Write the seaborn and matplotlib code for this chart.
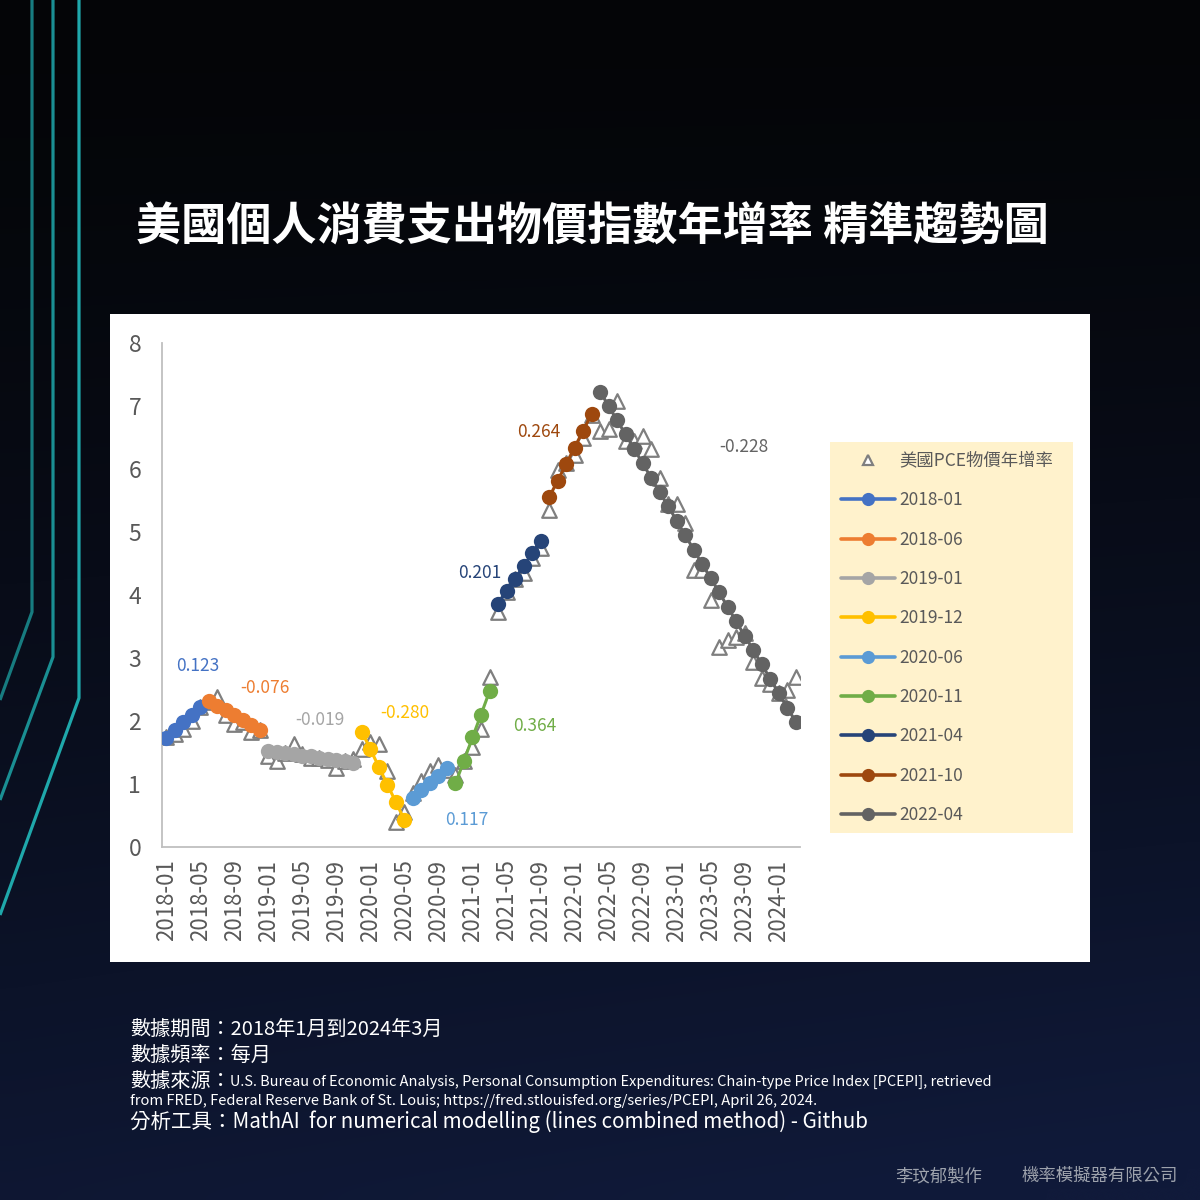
import numpy as np
import pandas as pd
import matplotlib
matplotlib.use("Agg")
import matplotlib.pyplot as plt
import seaborn as sns
from matplotlib.lines import Line2D
from matplotlib.patches import Rectangle

sns.set_theme(style="white")
plt.rcParams['font.family'] = ['Noto Sans CJK TC', 'DejaVu Sans']

# ---------------- data ----------------
months = list(pd.period_range('2018-01', '2024-03', freq='M').strftime('%Y-%m'))

pce_yoy = [
    1.75, 1.80, 1.88, 2.00, 2.22, 2.30, 2.38, 2.10, 1.96, 1.98, 1.82, 1.85,   # 2018
    1.44, 1.36, 1.50, 1.63, 1.48, 1.42, 1.42, 1.38, 1.25, 1.36, 1.40, 1.55,   # 2019
    1.66, 1.64, 1.20, 0.40, 0.55, 0.85, 1.05, 1.20, 1.30, 1.22, 1.15, 1.36,   # 2020
    1.58, 1.87, 2.70, 3.73, 4.05, 4.25, 4.35, 4.59, 4.74, 5.35, 5.98, 6.10,   # 2021
    6.22, 6.50, 6.85, 6.61, 6.64, 7.08, 6.45, 6.45, 6.53, 6.32, 5.86, 5.45,   # 2022
    5.45, 5.15, 4.40, 4.40, 3.92, 3.17, 3.29, 3.34, 3.40, 2.93, 2.69, 2.58,   # 2023
    2.45, 2.50, 2.70,                                                         # 2024
]

seg_starts = ['2018-01', '2018-06', '2019-01', '2019-12', '2020-06',
              '2020-11', '2021-04', '2021-10', '2022-04']
seg_fit_2018_01 = [1.73, 1.85, 1.98, 2.10, 2.22]
seg_fit_2018_06 = [2.32, 2.24, 2.17, 2.09, 2.01, 1.94, 1.86]
seg_fit_2019_01 = [1.53, 1.51, 1.49, 1.47, 1.45, 1.44, 1.42, 1.40, 1.38, 1.36, 1.34]
seg_fit_2019_12 = [1.83, 1.55, 1.27, 0.99, 0.71, 0.43]
seg_fit_2020_06 = [0.78, 0.90, 1.01, 1.13, 1.25]
seg_fit_2020_11 = [1.01, 1.37, 1.74, 2.10, 2.47]
seg_fit_2021_04 = [3.86, 4.06, 4.26, 4.46, 4.66, 4.86]
seg_fit_2021_10 = [5.55, 5.81, 6.08, 6.34, 6.61, 6.87]
seg_fit_2022_04 = [7.23, 7.00, 6.77, 6.55, 6.32, 6.09, 5.86, 5.63, 5.41, 5.18,
                   4.95, 4.72, 4.49, 4.27, 4.04, 3.81, 3.58, 3.35, 3.13, 2.90,
                   2.67, 2.44, 2.21, 1.99]
seg_fits = [seg_fit_2018_01, seg_fit_2018_06, seg_fit_2019_01, seg_fit_2019_12,
            seg_fit_2020_06, seg_fit_2020_11, seg_fit_2021_04, seg_fit_2021_10,
            seg_fit_2022_04]
seg_slopes = ['0.123', '-0.076', '-0.019', '-0.280', '0.117',
              '0.364', '0.201', '0.264', '-0.228']
seg_colors = ['#4472C4', '#ED7D31', '#A5A5A5', '#FFC000', '#5B9BD5',
              '#70AD47', '#264478', '#9E480E', '#636363']
# slope label anchor (month index, value)
slope_label_x = [3.7, 11.6, 18.1, 28.0, 35.3, 43.3, 36.9, 43.8, 67.9]
slope_label_y = [2.87, 2.52, 2.02, 2.13, 0.43, 1.92, 4.35, 6.59, 6.35]

tick_labels = ['2018-01', '2018-05', '2018-09', '2019-01', '2019-05', '2019-09',
               '2020-01', '2020-05', '2020-09', '2021-01', '2021-05', '2021-09',
               '2022-01', '2022-05', '2022-09', '2023-01', '2023-05', '2023-09',
               '2024-01']

title = '美國個人消費支出物價指數年增率 精準趨勢圖'
legend_title_label = '美國PCE物價年增率'

# ---------------- frames ----------------
df_pce = pd.DataFrame({'month': months, 'idx': range(len(months)), 'value': pce_yoy})
rows = []
for seg, vals in zip(seg_starts, seg_fits):
    s = months.index(seg)
    for k, v in enumerate(vals):
        rows.append({'month': months[s + k], 'idx': s + k, 'value': v, 'segment': seg})
df_fit = pd.DataFrame(rows)

W = H = 1200
fig = plt.figure(figsize=(12, 12), dpi=100)

# background gradient
bg = fig.add_axes([0, 0, 1, 1], zorder=-3)
ny, nx = 60, 60
t = np.linspace(0, 1, ny)[:, None]
s = np.linspace(0, 1, nx)[None, :]
top = np.array([4, 5, 7]) / 255
bot = np.array([16, 26, 58]) / 255
f = np.clip(t ** 1.3 * (0.85 + 0.2 * s), 0, 1)
img = top[None, None, :] * (1 - f[..., None]) + bot[None, None, :] * f[..., None]
bg.imshow(img, extent=[0, W, H, 0], aspect='auto', interpolation='bicubic')
bg.set_xlim(0, W)
bg.set_ylim(H, 0)
bg.axis('off')
# decorative teal lines
for xv, yb, yend, col in [(32, 612, 700, '#177c80'), (53, 657, 800, '#1a8f93'), (79, 698, 915, '#1fa8ab')]:
    bg.plot([xv, xv, 0], [0, yb, yend], color=col, lw=2.3, solid_capstyle='butt')

# white chart box
box = fig.add_axes([110 / W, 1 - 962 / H, 980 / W, 648 / H], zorder=-2)
box.set_facecolor('white')
box.set_xticks([]); box.set_yticks([])
for sp in box.spines.values():
    sp.set_visible(False)
# legend background
box.add_patch(Rectangle(((830 - 110) / 980, (962 - 833) / 648), 243 / 980, 391 / 648,
                        transform=box.transAxes, facecolor='#FFF2CC', edgecolor='none'))

# main axes
ax = fig.add_axes([162 / W, 1 - 847 / H, 638 / W, 504 / H], zorder=0)
ax.set_facecolor('none')

sns.scatterplot(data=df_pce, x='idx', y='value', marker='^', s=110, color='white',
                edgecolor='#7f7f7f', linewidth=1.6, ax=ax, zorder=2, legend=False)
palette = dict(zip(seg_starts, seg_colors))
sns.lineplot(data=df_fit, x='idx', y='value', hue='segment', palette=palette,
             marker='o', markersize=11, markeredgewidth=0, linewidth=2.2,
             estimator=None, ax=ax, zorder=3, legend=False)

for lbl, lx, ly, c in zip(seg_slopes, slope_label_x, slope_label_y, seg_colors):
    ax.text(lx, ly, lbl, color=c, fontsize=12.5, ha='center', va='center')

ax.set_xlim(-0.5, len(months) - 0.5)
ax.set_ylim(0, 8)
ax.set_yticks(range(0, 9))
ax.set_xticks([months.index(m) for m in tick_labels])
ax.set_xticklabels(tick_labels, rotation=90)
ax.set_xlabel('')
ax.set_ylabel('')
ax.tick_params(axis='y', labelsize=16.5, labelcolor='#595959', length=0, pad=15)
ax.tick_params(axis='x', labelsize=16, labelcolor='#595959', length=0, pad=9)
for side in ['top', 'right']:
    ax.spines[side].set_visible(False)
for side in ['left', 'bottom']:
    ax.spines[side].set_color('#bfbfbf')
    ax.spines[side].set_linewidth(1.3)
ax.grid(False)

# legend
handles = [Line2D([], [], marker='^', linestyle='none', markerfacecolor='white',
                  markeredgecolor='#7f7f7f', markersize=7.5, markeredgewidth=1.6)]
labels = [legend_title_label]
for seg, c in zip(seg_starts, seg_colors):
    handles.append(Line2D([], [], color=c, lw=2.6, marker='o', markersize=9.5, markeredgewidth=0))
    labels.append(seg)
fig.legend(handles, labels, loc='upper left', bbox_to_anchor=(841 / W, 1 - 452 / H),
           frameon=False, fontsize=12.5, labelcolor='#595959', handlelength=3.1,
           handletextpad=0.25, labelspacing=1.23, borderaxespad=0, borderpad=0)

# title
fig.text(592 / W, 1 - 228 / H, title, fontsize=32.5, weight='bold', color='white',
         ha='center', va='center')

# footer
fc = 'white'
fig.text(130 / W, 1 - 1030 / H, '數據期間：2018年1月到2024年3月', fontsize=14.5, color=fc, va='center')
fig.text(130 / W, 1 - 1055 / H, '數據頻率：每月', fontsize=14.5, color=fc, va='center')
fig.text(130 / W, 1 - 1081 / H, '數據來源：', fontsize=14.5, color=fc, va='center')
fig.text(230 / W, 1 - 1082 / H,
         'U.S. Bureau of Economic Analysis, Personal Consumption Expenditures: Chain-type Price Index [PCEPI], retrieved',
         fontsize=10.45, color=fc, va='center')
fig.text(130 / W, 1 - 1101 / H,
         'from FRED, Federal Reserve Bank of St. Louis; https://fred.stlouisfed.org/series/PCEPI, April 26, 2024.',
         fontsize=10.6, color=fc, va='center')
fig.text(130 / W, 1 - 1122 / H,
         '分析工具：MathAI  for numerical modelling (lines combined method) - Github',
         fontsize=14.8, color=fc, va='center')
fig.text(982 / W, 1 - 1176 / H, '李玟郁製作', fontsize=12.5, color='#9da2ac', ha='right', va='center')
fig.text(1178 / W, 1 - 1176 / H, '機率模擬器有限公司', fontsize=12.5, color='#9da2ac', ha='right', va='center')

fig.savefig('out.png', dpi=100)
